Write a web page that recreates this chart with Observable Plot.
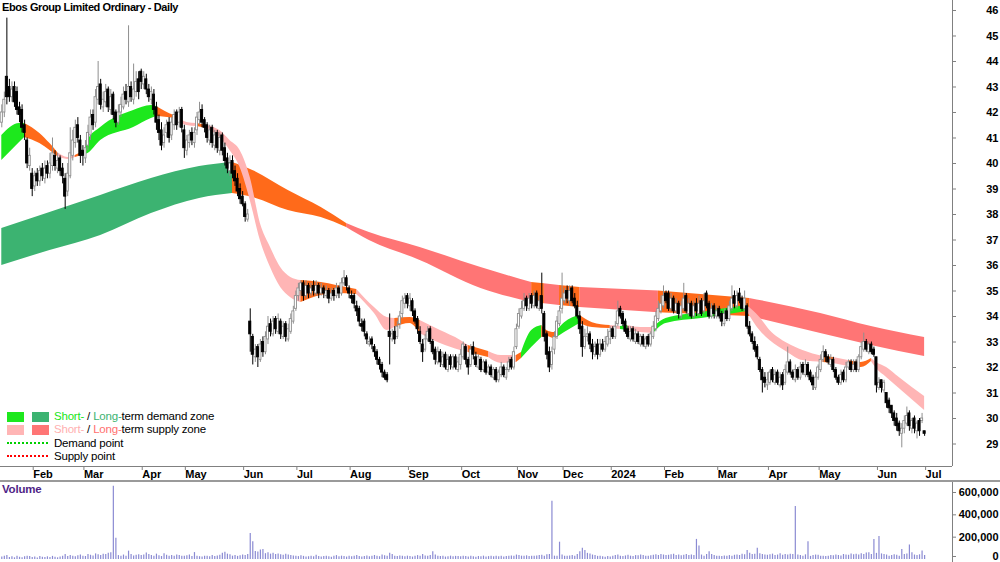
<!DOCTYPE html>
<html><head><meta charset="utf-8">
<script src="https://cdn.jsdelivr.net/npm/d3@7"></script>
<script src="https://cdn.jsdelivr.net/npm/@observablehq/plot@0.6"></script>
<style>
body{margin:0;background:#fff;}
#chart{position:relative;width:1000px;height:562px;overflow:hidden;font-family:"Liberation Sans",Arial,sans-serif;background:#fff;}
#chart svg{display:block;}
.ov{position:absolute;white-space:nowrap;}
.title{left:2px;top:1px;font-weight:bold;font-size:11px;letter-spacing:-0.4px;color:#000;line-height:12px;}
.lg{left:54px;font-size:11.5px;letter-spacing:-0.2px;line-height:13px;color:#000;}
.sw{position:absolute;width:17px;height:10px;}
.dot{position:absolute;left:7px;width:41px;height:0;border-top-width:2px;border-top-style:dotted;}
.vol{left:2px;top:483px;font-weight:bold;font-size:11.5px;color:#4f1f86;line-height:13px;letter-spacing:-0.2px;}
.sep{position:absolute;left:0;top:480px;width:1000px;height:2px;background:#9a9a9a;}
</style></head>
<body>
<div id="chart"></div>
<script>
// ---- Daily OHLC (A$), trading-day index 0 = mid Jan 2023 ----
const opens = [
41.6,42.0,43.4,43.0,42.6,43.0,42.8,42.2,42.1,41.5,40.9,39.9,
39.6,39.1,39.6,39.3,39.8,39.4,39.9,39.6,39.9,40.3,39.8,40.2,39.8,39.4,38.9,39.5,40.3,40.8,41.5,40.9,
40.5,40.2,40.7,41.1,41.9,41.6,42.5,43.1,42.2,42.4,42.9,42.1,42.7,42.0,41.6,42.0,42.2,42.8,42.4,43.0,42.5,42.8,43.3,
43.6,43.1,43.3,42.9,42.5,42.7,42.2,41.7,41.3,40.8,41.2,41.6,41.1,41.5,42.0,41.6,42.1,
41.3,40.5,40.8,41.2,40.8,41.3,41.7,42.1,41.7,41.5,40.9,41.4,40.7,41.2,40.5,41.1,40.6,40.2,39.7,40.1,39.7,39.4,39.0,
38.7,38.4,37.8,33.8,33.2,32.4,32.8,32.3,33.0,32.6,33.1,33.7,33.3,33.9,33.4,33.8,33.2,33.7,33.1,33.4,33.8,
34.3,34.8,35.0,35.3,34.8,35.2,34.9,35.2,34.9,35.2,34.9,35.1,34.8,35.0,34.7,35.0,34.8,35.1,34.9,35.3,35.5,
35.1,34.8,34.8,34.4,34.3,33.7,33.8,33.3,32.9,33.1,32.8,32.6,32.3,32.1,31.8,31.7,33.4,33.1,33.4,33.2,33.7,34.1,34.5,
34.8,34.4,34.6,34.2,33.9,33.4,32.9,32.7,33.1,33.5,33.0,32.7,32.2,32.6,32.1,32.5,31.9,32.4,32.0,32.4,31.9,
32.1,32.4,32.8,32.3,32.1,32.8,32.4,32.0,32.3,31.9,32.2,31.8,32.0,31.6,31.9,31.5,31.7,32.0,31.6,31.9,32.3,32.0,
32.8,33.6,34.0,34.3,34.7,34.3,34.8,34.4,34.9,34.3,34.8,34.1,33.3,32.6,32.1,32.7,33.2,33.7,
34.3,34.6,35.0,34.6,35.1,34.7,34.4,34.0,33.6,32.8,33.2,33.3,32.9,32.5,32.9,32.5,32.9,32.7,32.9,
33.1,33.5,33.2,33.7,34.3,34.1,33.8,33.5,33.1,33.5,33.0,33.3,32.9,33.2,32.8,33.2,32.9,33.2,33.5,33.9,34.2,
34.4,34.9,34.9,34.3,34.7,34.2,34.5,34.0,34.3,34.8,34.1,34.5,34.0,34.5,34.1,34.6,34.2,34.9,34.5,34.0,34.4,
34.0,34.3,34.1,33.7,34.2,33.9,34.3,34.8,34.4,34.9,34.7,34.3,34.4,33.6,33.3,33.0,32.8,32.3,31.9,31.6,
31.3,31.4,31.9,31.4,31.8,31.3,31.7,31.4,31.8,32.2,31.8,31.5,31.9,31.6,32.1,31.7,32.1,31.8,31.6,31.2,
31.6,31.9,32.3,32.6,32.4,32.1,32.3,31.9,31.6,31.4,31.8,31.5,32.0,32.2,31.9,32.2,31.9,32.4,32.7,33.0,32.6,32.9,32.7,
32.4,31.2,31.5,31.1,31.0,30.7,30.5,30.2,30.0,29.8,29.4,29.6,29.8,30.2,29.6,30.0,29.5,29.9,29.9,29.5];
const highs = [
42.3,42.8,45.7,43.3,43.2,43.2,43.0,42.4,42.3,41.7,41.0,40.6,
39.8,39.7,39.8,39.9,40.0,40.1,40.1,40.4,41.0,40.5,40.4,40.3,40.0,39.6,40.0,41.4,41.3,41.7,41.8,41.1,
40.7,40.9,41.5,42.1,42.1,42.9,44.0,43.3,42.8,43.1,43.0,42.9,42.8,42.1,42.3,42.6,43.0,43.1,45.4,43.2,43.9,43.6,43.6,
43.7,43.6,43.5,43.1,43.0,42.9,42.4,41.9,41.6,41.4,41.7,41.8,41.8,42.1,42.1,42.2,42.2,
41.5,41.1,41.3,41.4,41.4,42.0,42.4,42.3,41.8,41.6,41.5,41.5,41.3,41.3,41.2,41.2,40.8,40.4,40.3,40.3,39.9,39.6,39.2,
38.9,38.5,38.2,34.3,33.3,32.9,32.9,33.1,33.2,33.4,34.0,33.9,34.0,34.0,34.1,33.9,33.8,33.8,33.7,34.1,34.4,
35.0,35.3,35.4,35.4,35.4,35.3,35.3,35.4,35.4,35.3,35.3,35.2,35.2,35.1,35.1,35.1,35.3,35.2,35.5,35.8,35.6,
35.2,35.0,34.9,34.6,34.4,33.9,33.9,33.4,33.2,33.2,32.9,32.7,32.4,32.2,31.9,31.8,34.1,33.5,33.6,33.8,34.2,34.8,34.9,
34.9,34.9,34.7,34.3,34.0,33.6,33.1,33.3,33.6,33.6,33.1,32.8,32.8,32.7,32.6,32.6,32.5,32.5,32.5,32.5,32.4,
32.7,33.0,32.9,32.4,32.9,33.0,32.6,32.5,32.4,32.3,32.3,32.1,32.1,32.0,32.0,31.9,32.2,32.1,32.0,32.4,32.4,32.8,
33.7,34.3,34.6,34.9,34.8,34.9,34.9,35.0,35.0,34.8,35.7,34.2,33.4,32.8,32.8,33.4,34.0,34.4,
35.7,35.1,35.2,35.2,35.2,34.9,34.6,34.2,33.8,33.5,33.6,33.4,33.1,33.0,33.1,33.1,33.1,33.2,33.5,
33.6,33.6,33.8,34.6,34.4,34.2,33.9,33.6,33.6,33.6,33.5,33.4,33.3,33.3,33.2,33.3,33.4,33.8,34.2,34.6,34.8,
35.2,35.0,35.0,34.9,34.8,34.7,34.6,34.6,35.3,34.9,34.7,34.6,34.6,34.7,34.8,34.7,34.9,35.0,34.6,34.5,34.5,
34.4,34.4,34.2,34.3,34.3,34.6,35.2,35.0,35.0,35.1,34.8,35.0,34.5,33.8,33.4,33.2,32.9,32.4,32.0,31.8,
31.8,31.9,32.0,31.9,31.9,31.8,31.8,32.1,32.8,32.3,31.9,32.1,32.0,32.2,32.2,32.3,32.2,31.9,31.7,31.8,
32.1,32.5,32.85,32.7,32.5,32.5,32.4,32.0,31.7,31.9,31.9,32.2,32.3,32.3,32.3,32.3,32.5,33.0,33.35,33.1,33.0,33.0,32.8,
32.4,31.6,31.5,31.5,31.0,30.8,30.5,30.3,30.2,29.9,29.8,30.1,30.45,30.3,30.0,30.1,29.9,30.0,30.2,29.5];
const lows = [
41.4,41.8,42.3,42.4,42.4,42.2,41.9,41.6,41.2,40.9,39.8,39.7,
38.7,38.9,39.1,39.1,39.3,39.2,39.4,39.4,39.7,39.7,39.6,39.5,39.2,38.2,38.7,39.4,40.1,40.6,40.8,40.0,
39.9,40.0,40.5,40.9,41.3,41.4,42.3,42.1,42.0,42.2,42.0,41.9,41.7,41.4,41.5,41.8,42.1,42.3,42.2,42.4,42.3,42.6,42.5,
42.9,42.9,42.7,42.4,42.3,41.9,41.3,40.9,40.5,40.6,41.0,40.8,40.9,41.3,41.3,41.4,41.2,
40.2,40.3,40.6,40.7,40.6,41.1,41.5,41.4,41.2,40.8,40.7,40.6,40.5,40.4,40.3,40.3,39.9,39.6,39.5,39.4,39.1,38.7,38.4,
38.3,37.7,37.7,32.6,32.1,32.2,32.0,32.2,32.4,32.5,32.9,33.2,33.2,33.3,33.3,33.1,33.1,33.0,33.0,33.3,33.7,
34.2,34.6,34.8,34.6,34.7,34.7,34.8,34.8,34.8,34.7,34.8,34.7,34.7,34.5,34.6,34.6,34.7,34.7,34.8,35.2,35.0,
34.7,34.5,34.3,34.0,33.6,33.4,33.2,32.9,32.8,32.7,32.4,32.1,31.9,31.6,31.5,31.4,32.1,33.0,32.9,33.1,33.5,33.9,34.3,
34.3,34.2,34.0,33.7,33.3,32.9,32.2,32.6,33.0,32.9,32.5,32.1,32.1,32.0,32.0,31.9,31.8,31.9,31.9,31.9,31.8,
31.9,32.3,32.1,31.7,32.0,32.3,32.0,31.9,31.8,31.8,31.7,31.7,31.6,31.5,31.4,31.4,31.6,31.6,31.5,31.8,31.9,31.9,
32.7,33.5,33.9,34.2,34.2,34.2,34.3,34.3,34.3,34.2,34.1,33.0,32.3,31.8,31.9,32.5,33.1,33.6,
34.1,34.5,34.5,34.4,34.5,34.3,33.9,33.3,32.4,32.7,33.0,32.7,32.3,32.4,32.3,32.4,32.6,32.6,32.8,
32.9,33.1,33.1,33.6,33.9,33.6,33.3,33.1,33.0,33.0,32.9,32.9,32.8,32.8,32.7,32.8,32.8,33.1,33.4,33.8,34.1,
34.3,34.5,34.2,34.2,34.1,34.1,33.9,33.9,34.2,34.1,34.0,33.9,33.9,34.0,34.0,34.0,34.1,34.3,33.9,33.9,33.9,
33.9,33.9,33.6,33.6,33.8,33.8,34.2,34.3,34.3,34.5,34.2,34.2,33.5,33.2,32.9,32.6,32.3,31.8,31.0,31.2,
31.1,31.3,31.4,31.3,31.3,31.2,31.1,31.3,31.7,31.7,31.5,31.4,31.5,31.5,31.7,31.6,31.6,31.4,31.1,31.1,
31.5,31.8,32.2,32.2,32.1,32.0,31.8,31.5,31.3,31.3,31.4,31.4,31.9,31.8,31.8,31.8,31.8,32.3,32.6,32.6,32.5,32.5,32.4,
31.0,31.1,31.0,31.0,30.4,30.2,30.0,29.7,29.5,29.3,28.85,29.4,29.7,29.5,29.4,29.4,29.2,29.3,29.8,29.3];
const closes = [
42.0,42.5,42.6,42.6,42.9,42.4,42.1,41.9,41.4,41.2,40.0,40.3,
39.0,39.5,39.3,39.7,39.5,39.8,39.6,40.0,40.4,39.9,40.1,39.7,39.5,38.7,39.6,40.4,40.9,41.4,41.0,40.3,
40.3,40.6,41.2,41.8,41.5,42.6,43.0,42.3,42.5,42.8,42.2,42.6,41.9,41.6,42.0,42.3,42.7,42.5,43.0,42.6,42.9,43.2,42.8,
43.2,43.4,42.9,42.6,42.8,42.1,41.6,41.2,40.7,41.1,41.5,41.0,41.6,41.9,41.5,42.0,41.4,
40.6,40.9,41.1,40.9,41.2,41.8,42.0,41.6,41.4,41.0,41.3,40.8,41.1,40.6,41.0,40.5,40.1,39.8,40.0,39.6,39.3,38.9,38.6,
38.4,37.9,38.0,33.3,32.5,32.7,32.4,32.9,32.6,33.2,33.6,33.4,33.8,33.5,33.9,33.3,33.6,33.2,33.5,33.9,34.2,
34.8,35.1,35.3,34.8,35.2,34.9,35.1,35.0,35.2,34.9,35.1,34.9,35.0,34.7,34.9,34.8,35.1,34.9,35.3,35.5,35.2,
34.9,34.7,34.5,34.2,33.8,33.6,33.4,33.1,33.0,32.9,32.6,32.3,32.1,31.8,31.6,31.5,33.2,33.3,33.1,33.6,34.0,34.6,34.7,
34.5,34.7,34.2,33.8,33.5,33.0,32.6,33.1,33.4,33.0,32.6,32.3,32.6,32.2,32.4,32.0,32.3,32.1,32.4,32.0,32.2,
32.5,32.9,32.3,32.0,32.7,32.5,32.1,32.4,31.9,32.2,31.8,32.0,31.7,31.9,31.5,31.8,32.0,31.7,31.9,32.2,32.0,32.6,
33.5,34.1,34.3,34.6,34.4,34.7,34.5,34.8,34.4,34.6,34.3,33.2,32.5,32.0,32.6,33.2,33.8,34.2,
34.7,34.9,34.7,35.0,34.6,34.4,34.0,33.5,32.8,33.2,33.3,32.9,32.6,32.8,32.5,32.9,32.7,33.0,33.2,
33.4,33.2,33.6,34.2,34.0,33.7,33.4,33.2,33.4,33.1,33.3,33.0,33.2,32.9,33.1,32.9,33.3,33.6,34.0,34.3,34.5,
34.8,34.6,34.3,34.7,34.2,34.5,34.1,34.4,34.7,34.2,34.5,34.0,34.4,34.2,34.5,34.1,34.6,34.4,34.0,34.3,34.1,
34.2,34.0,33.8,34.1,33.9,34.4,34.7,34.5,34.8,34.6,34.3,34.7,33.6,33.3,33.0,32.7,32.4,31.9,31.5,31.4,
31.5,31.8,31.5,31.7,31.4,31.6,31.3,31.9,32.2,31.8,31.6,31.9,31.6,32.0,31.8,32.1,31.7,31.5,31.3,31.6,
32.0,32.3,32.6,32.4,32.2,32.3,31.9,31.6,31.4,31.7,31.5,32.0,32.2,31.9,32.1,31.9,32.4,32.8,33.0,32.7,32.9,32.6,32.5,
31.3,31.4,31.2,31.4,30.6,30.4,30.2,29.9,29.7,29.5,29.6,29.9,30.1,29.7,29.9,29.6,29.8,29.5,30.0,29.4];
// daily volume, thousands of shares
const volumeK = [
22,30,35,18,25,15,28,20,16,24,30,26,
18,22,14,26,20,17,24,19,28,21,15,23,30,45,26,35,28,24,33,40,
30,27,45,38,32,50,42,36,48,44,55,60,655,190,35,28,40,30,75,45,32,38,42,
36,40,58,44,35,30,48,33,27,52,38,30,36,29,41,35,30,
28,33,40,26,62,30,25,22,30,28,24,35,27,31,38,55,65,48,42,30,36,28,34,
40,35,45,233,160,72,68,85,90,52,60,48,55,45,50,42,38,46,40,35,32,
30,26,34,28,22,25,30,24,38,27,22,26,30,24,20,28,35,25,30,26,22,
28,24,30,35,26,22,27,32,24,28,36,30,25,40,33,28,55,45,30,26,32,28,24,
30,26,22,28,35,30,45,32,28,36,70,40,30,26,28,22,25,30,24,28,26,
24,30,26,22,28,25,20,27,24,30,22,26,28,24,30,25,28,22,26,30,32,28,
40,35,30,28,33,26,30,28,32,35,38,30,42,45,522,30,28,155,
40,30,28,32,35,30,45,70,100,80,55,50,40,35,28,30,24,20,26,
22,28,35,40,30,26,32,38,30,27,35,33,40,36,30,28,34,38,42,36,45,
40,35,38,42,48,36,40,33,38,44,36,40,35,180,120,40,30,45,70,45,35,
30,28,26,32,28,35,30,38,40,36,48,42,80,55,45,48,100,52,45,40,
38,42,48,35,40,52,38,45,40,48,44,475,40,35,30,42,160,28,35,40,
38,30,28,26,30,35,33,40,36,32,45,40,38,50,42,48,40,52,45,58,60,45,180,
55,205,50,45,40,30,35,42,38,30,90,45,50,130,60,40,35,42,75,35];

// month tick positions (trading-day index) and labels
const monthIdx = [12,32,55,72,95,116,137,160,181,203,221,240,261,282,302,322,345,364];
const monthLabels = ["Feb","Mar","Apr","May","Jun","Jul","Aug","Sep","Oct","Nov","Dec","2024","Feb","Mar","Apr","May","Jun","Jul"];
const priceTicks = [29,30,31,32,33,34,35,36,37,38,39,40,41,42,43,44,45,46];
const volumeTicks = [0,200000,400000,600000];

// short-term zone (upper, lower edge) read at knots; state = zone type to the right
const shortIdx = [0,7,9,15,19,22,26,29,33,34,39,52,59,61,68,69,73,77,81,86,90,94,98,102,106,110,114,118,126,132,140,147,152,155,161,165,173,181,184,192,197,203,205,209,213,215,218,219,222,228,233,240,244,247,252,257,262,276,294,299,303,310,316,324,328,334,339,343,345,349,354,364];
const shortHi = [41.10,41.57,41.57,41.18,40.78,40.43,40.24,40.31,40.51,40.90,41.41,42.08,42.27,42.24,41.88,41.84,41.61,41.57,41.49,41.29,40.90,40.51,39.45,37.65,36.71,35.92,35.53,35.41,35.33,35.22,35.06,34.35,33.96,33.92,33.96,33.84,33.45,33.06,32.86,32.63,32.47,32.47,32.59,33.45,33.65,33.45,33.37,33.45,33.76,34.05,33.76,33.65,33.61,33.65,33.57,33.57,33.92,34.16,34.43,33.96,33.45,32.94,32.67,32.43,32.39,32.27,32.20,32.35,32.20,32.00,31.61,30.86];
const shortLo = [40.12,40.82,41.02,40.78,40.51,40.27,40.16,40.24,40.35,40.39,40.90,41.41,41.76,41.84,41.76,41.72,41.49,41.45,41.37,41.02,40.51,39.84,38.55,36.98,35.92,35.14,34.74,34.55,34.82,34.90,34.86,34.12,33.45,33.57,33.73,33.33,32.94,32.67,32.59,32.39,32.16,32.20,32.35,32.78,33.18,33.22,33.14,33.18,33.37,33.73,33.57,33.53,33.49,33.45,33.37,33.33,33.73,33.92,34.20,33.45,33.06,32.59,32.27,32.20,32.16,32.04,32.00,32.24,31.96,31.61,31.18,30.31];
const shortState = ["sd","sd","o","o","o","ss","ss","o","sd","sd","sd","sd","sd","o","o","ss","ss","o","ss","ss","ss","ss","ss","ss","ss","ss","ss","o","o","o","ss","ss","ss","o","o","ss","ss","ss","o","ss","ss","o","sd","sd","o","o","o","sd","sd","o","o","ss","sd","ss","ss","sd","sd","sd","ss","ss","ss","ss","ss","o","ss","o","o","ss","ss","ss","ss","ss"];

// long-term zone
const longIdx = [0,19,39,59,78,91,99,113,126,136,145,165,189,209,214,220,228,259,295,323,343,364];
const longHi = [37.45,38.08,38.75,39.41,39.88,40.04,39.73,38.94,38.27,37.65,37.29,36.71,35.92,35.33,35.28,35.22,35.14,35.00,34.71,34.12,33.61,33.18];
const longLo = [36.00,36.59,37.18,38.04,38.63,38.82,38.67,38.16,37.88,37.49,36.98,36.20,35.10,34.55,34.50,34.43,34.35,34.15,34.00,33.33,32.86,32.43];
const longState = ["ld","ld","ld","ld","ld","o","o","o","o","ls","ls","ls","ls","o","ls","o","ls","o","ls","ls","ls","ls"];

const zoneColor = {sd:"#1de81d", ld:"#3cb371", ss:"#ffb5b5", ls:"#ff7575", o:"#ff6a1a"};

// ---- layout constants ----
const X_DOMAIN = [-0.51, 375.0];
const PRICE_DOMAIN = [28.118, 46.392];
const VOL_DOMAIN = [-26866, 698507];

const candles = closes.map((c, i) => ({i, o: opens[i], h: highs[i], l: lows[i], c, up: c >= opens[i]}));
const upC = candles.filter(d => d.up), dnC = candles.filter(d => !d.up);
const vols = volumeK.map((v, i) => ({i, v: v * 1000}));

function segments(idx, hi, lo, st) {
  const rows = []; let seg = -1;
  for (let k = 0; k < idx.length - 1; k++) {
    if (k === 0 || st[k] !== st[k - 1]) { seg++; rows.push({i: idx[k], hi: hi[k], lo: lo[k], seg, state: st[k]}); }
    rows.push({i: idx[k + 1], hi: hi[k + 1], lo: lo[k + 1], seg, state: st[k]});
  }
  return rows;
}
const longRows = segments(longIdx, longHi, longLo, longState);
const shortRows = segments(shortIdx, shortHi, shortLo, shortState);
const zoneMarks = (rows) => Object.keys(zoneColor).map(s =>
  Plot.areaY(rows.filter(d => d.state === s), {x: "i", y1: "lo", y2: "hi", z: "seg", fill: zoneColor[s], curve: "monotone-x"}));

const labelAt = new Map(monthIdx.map((d, k) => [d, monthLabels[k]]));
const baseStyle = {fontFamily: "'Liberation Sans', Arial, sans-serif", fontSize: "11px", fontWeight: "bold", background: "transparent", color: "#000", overflow: "visible"};

const price = Plot.plot({
  width: 1000, height: 481, marginLeft: 0, marginRight: 48, marginTop: 0, marginBottom: 15,
  x: {type: "linear", domain: X_DOMAIN},
  y: {domain: PRICE_DOMAIN},
  style: baseStyle,
  marks: [
    ...zoneMarks(longRows),
    ...zoneMarks(shortRows),
    Plot.ruleX(upC, {x: "i", y1: "l", y2: "h", stroke: "#8e8e8e", strokeWidth: 1}),
    Plot.ruleX(dnC, {x: "i", y1: "l", y2: "h", stroke: "#000", strokeWidth: 1}),
    Plot.rect(upC, {x1: d => d.i - 0.42, x2: d => d.i + 0.42, y1: "o", y2: "c", fill: "#fff", stroke: "#8e8e8e", strokeWidth: 0.9}),
    Plot.rect(dnC, {x1: d => d.i - 0.42, x2: d => d.i + 0.42, y1: "o", y2: "c", fill: "#000", stroke: "#000", strokeWidth: 0.9}),
    Plot.ruleY([PRICE_DOMAIN[0]], {stroke: "#808080"}),
    Plot.ruleX([X_DOMAIN[1]], {stroke: "#808080"}),
    Plot.axisX({anchor: "bottom", ticks: monthIdx, tickFormat: d => labelAt.get(d), tickSize: 4, tickPadding: 0, textAnchor: "start", dx: 1, label: null, stroke: "#808080"}),
    Plot.axisY({anchor: "right", ticks: priceTicks, tickSize: 3, tickPadding: 43, textAnchor: "end", label: null, stroke: "#808080"})
  ]
});

const volume = Plot.plot({
  width: 1000, height: 81, marginLeft: 0, marginRight: 48, marginTop: 0, marginBottom: 0,
  x: {type: "linear", domain: X_DOMAIN, axis: null},
  y: {domain: VOL_DOMAIN},
  style: baseStyle,
  marks: [
    Plot.ruleX(vols, {x: "i", y1: 0, y2: "v", stroke: "#8b8bd3", strokeWidth: 1.2}),
    Plot.ruleX([X_DOMAIN[1]], {stroke: "#808080"}),
    Plot.axisY({anchor: "right", ticks: volumeTicks.slice(1), tickFormat: d3.format(","), tickSize: 3, tickPadding: 43, textAnchor: "end", label: null, stroke: "#808080"}),
    Plot.axisY({anchor: "right", ticks: volumeTicks.slice(0, 1), tickFormat: d3.format(","), tickSize: 3, tickPadding: 43, textAnchor: "end", dy: -3, label: null, stroke: "#808080"})
  ]
});

const root = document.getElementById("chart");
root.append(price, volume);
root.insertAdjacentHTML("beforeend", `
<div class="sep"></div>
<div class="ov title">Ebos Group Limited Ordinary - Daily</div>
<div class="sw" style="left:7px;top:412px;background:${zoneColor.sd}"></div>
<div class="sw" style="left:32px;top:412px;background:${zoneColor.ld}"></div>
<div class="sw" style="left:7px;top:425px;background:${zoneColor.ss}"></div>
<div class="sw" style="left:32px;top:425px;background:${zoneColor.ls}"></div>
<div class="dot" style="top:442px;border-top-color:#00d000"></div>
<div class="dot" style="top:455px;border-top-color:#ff0000"></div>
<div class="ov lg" style="top:410px"><span style="color:#19e619">Short-</span> / <span style="color:#3cb371">Long-</span>term demand zone</div>
<div class="ov lg" style="top:423px"><span style="color:#ffb0b0">Short-</span> / <span style="color:#ff6f6f">Long-</span>term supply zone</div>
<div class="ov lg" style="top:437px">Demand point</div>
<div class="ov lg" style="top:450px">Supply point</div>
<div class="ov vol">Volume</div>
`);
</script>
</body></html>
